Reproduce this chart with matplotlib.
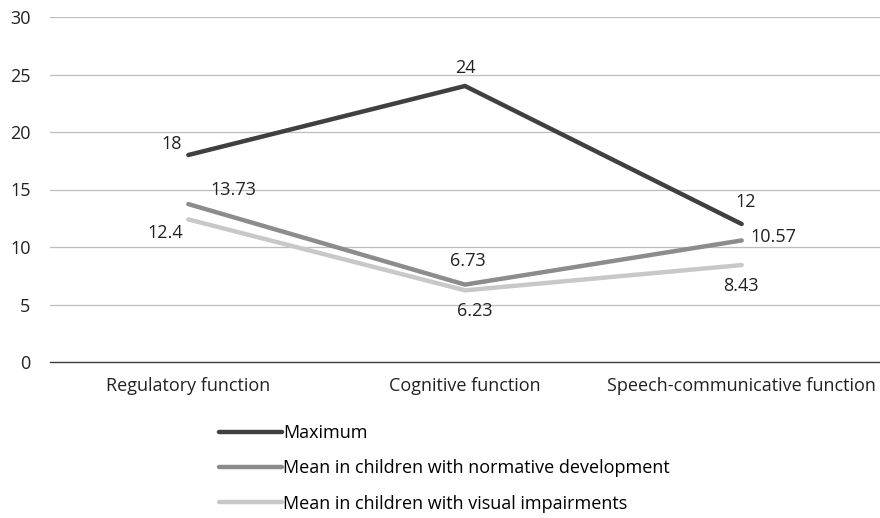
import matplotlib.pyplot as plt

plt.rcParams['font.family'] = ['Open Sans', 'DejaVu Sans']

categories = ["Regulatory function", "Cognitive function", "Speech-communicative function"]
series_names = [
    "Maximum",
    "Mean in children with normative development",
    "Mean in children with visual impairments",
]
maximum = [18, 24, 12]
normative = [13.73, 6.73, 10.57]
visual = [12.4, 6.23, 8.43]
labels_max = ["18", "24", "12"]
labels_norm = ["13.73", "6.73", "10.57"]
labels_vis = ["12.4", "6.23", "8.43"]

colors = ["#404040", "#8c8c8c", "#c8c8c8"]
# label offsets in pixels per point
off_max = [(-17, 11), (0, 18), (4, 22)]
off_norm = [(45, 14), (3, 24), (32, 3)]
off_vis = [(-23, -14), (10, -21), (-1, -21)]

FS = 13

fig = plt.figure(figsize=(8.8, 5.18), dpi=100)
ax = fig.add_axes([50 / 880, 1 - 362 / 518, 830 / 880, 345 / 518])

x = list(range(len(categories)))
data = [maximum, normative, visual]
texts = [labels_max, labels_norm, labels_vis]
offs = [off_max, off_norm, off_vis]
for vals, name, col, labs, off in zip(data, series_names, colors, texts, offs):
    ax.plot(x, vals, color=col, lw=3.2, label=name, solid_capstyle="round", zorder=3)
    for xi, v, lab, o in zip(x, vals, labs, off):
        ax.annotate(lab, (xi, v), xytext=o, textcoords="offset pixels",
                    ha="center", va="center", fontsize=FS, color="#222222")

ax.set_xlim(-0.5, 2.5)
ax.set_ylim(0, 30)
ax.set_yticks(range(0, 31, 5))
ax.set_xticks(x)
ax.set_xticklabels(categories)
ax.grid(axis="y", color="#bdbdbd", lw=0.9)
ax.set_axisbelow(True)
for s in ["top", "right", "left"]:
    ax.spines[s].set_visible(False)
ax.spines["bottom"].set_color("#404040")
ax.spines["bottom"].set_linewidth(1.0)
ax.tick_params(axis="both", length=0, labelsize=FS, labelcolor="#222222")
ax.tick_params(axis="y", pad=14)
ax.tick_params(axis="x", pad=11)

fig.legend(loc="upper left", bbox_to_anchor=(212 / 880, 1 - 417 / 518),
           frameon=False, fontsize=FS, handlelength=3.5, handletextpad=0.05,
           labelspacing=0.95, borderaxespad=0)

fig.savefig("out.png", dpi=100)
